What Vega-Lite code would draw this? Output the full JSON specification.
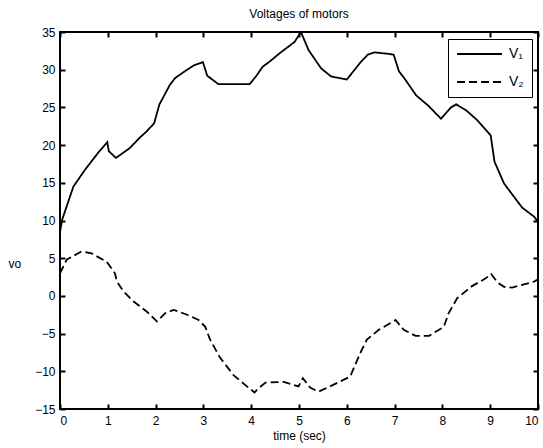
{
  "$schema": "https://vega.github.io/schema/vega-lite/v6.json",
  "width": 478,
  "height": 377,
  "autosize": "none",
  "padding": {"left": 60, "top": 32, "right": 5, "bottom": 39},
  "background": "white",
  "title": {"text": "Voltages of motors", "fontSize": 12, "font": "Liberation Sans", "fontWeight": "normal", "color": "black", "offset": 5, "anchor": "middle"},
  "data": {"values": [
    {"t": 0, "v": 8.5, "s": "V₁"},
    {"t": 0.05, "v": 10.2, "s": "V₁"},
    {"t": 0.28, "v": 14.5, "s": "V₁"},
    {"t": 0.52, "v": 16.7, "s": "V₁"},
    {"t": 0.8, "v": 19.0, "s": "V₁"},
    {"t": 0.99, "v": 20.4, "s": "V₁"},
    {"t": 1.02, "v": 19.2, "s": "V₁"},
    {"t": 1.17, "v": 18.3, "s": "V₁"},
    {"t": 1.46, "v": 19.6, "s": "V₁"},
    {"t": 1.67, "v": 21.0, "s": "V₁"},
    {"t": 1.81, "v": 21.8, "s": "V₁"},
    {"t": 1.97, "v": 22.9, "s": "V₁"},
    {"t": 2.08, "v": 25.4, "s": "V₁"},
    {"t": 2.3, "v": 28.0, "s": "V₁"},
    {"t": 2.41, "v": 28.9, "s": "V₁"},
    {"t": 2.66, "v": 30.0, "s": "V₁"},
    {"t": 2.81, "v": 30.6, "s": "V₁"},
    {"t": 2.99, "v": 31.0, "s": "V₁"},
    {"t": 3.08, "v": 29.2, "s": "V₁"},
    {"t": 3.31, "v": 28.1, "s": "V₁"},
    {"t": 3.97, "v": 28.1, "s": "V₁"},
    {"t": 4.11, "v": 29.2, "s": "V₁"},
    {"t": 4.24, "v": 30.4, "s": "V₁"},
    {"t": 4.37, "v": 31.0, "s": "V₁"},
    {"t": 4.62, "v": 32.3, "s": "V₁"},
    {"t": 4.91, "v": 33.7, "s": "V₁"},
    {"t": 5.04, "v": 35.0, "s": "V₁"},
    {"t": 5.2, "v": 32.6, "s": "V₁"},
    {"t": 5.46, "v": 30.2, "s": "V₁"},
    {"t": 5.67, "v": 29.1, "s": "V₁"},
    {"t": 6.0, "v": 28.7, "s": "V₁"},
    {"t": 6.29, "v": 31.0, "s": "V₁"},
    {"t": 6.44, "v": 32.0, "s": "V₁"},
    {"t": 6.58, "v": 32.3, "s": "V₁"},
    {"t": 6.87, "v": 32.1, "s": "V₁"},
    {"t": 6.98, "v": 32.0, "s": "V₁"},
    {"t": 7.09, "v": 29.8, "s": "V₁"},
    {"t": 7.2, "v": 28.9, "s": "V₁"},
    {"t": 7.45, "v": 26.6, "s": "V₁"},
    {"t": 7.71, "v": 25.2, "s": "V₁"},
    {"t": 7.97, "v": 23.5, "s": "V₁"},
    {"t": 8.18, "v": 25.0, "s": "V₁"},
    {"t": 8.29, "v": 25.4, "s": "V₁"},
    {"t": 8.5, "v": 24.6, "s": "V₁"},
    {"t": 8.73, "v": 23.3, "s": "V₁"},
    {"t": 9.01, "v": 21.3, "s": "V₁"},
    {"t": 9.09, "v": 17.8, "s": "V₁"},
    {"t": 9.29, "v": 14.9, "s": "V₁"},
    {"t": 9.67, "v": 11.7, "s": "V₁"},
    {"t": 9.92, "v": 10.5, "s": "V₁"},
    {"t": 10, "v": 9.8, "s": "V₁"},
    {"t": 0, "v": 3.0, "s": "V₂"},
    {"t": 0.14, "v": 4.8, "s": "V₂"},
    {"t": 0.45, "v": 5.9, "s": "V₂"},
    {"t": 0.66, "v": 5.65, "s": "V₂"},
    {"t": 0.98, "v": 4.5, "s": "V₂"},
    {"t": 1.15, "v": 3.0, "s": "V₂"},
    {"t": 1.19, "v": 1.9, "s": "V₂"},
    {"t": 1.33, "v": 0.57, "s": "V₂"},
    {"t": 1.54, "v": -0.75, "s": "V₂"},
    {"t": 1.82, "v": -2.1, "s": "V₂"},
    {"t": 2.03, "v": -3.4, "s": "V₂"},
    {"t": 2.2, "v": -2.3, "s": "V₂"},
    {"t": 2.38, "v": -1.85, "s": "V₂"},
    {"t": 2.66, "v": -2.5, "s": "V₂"},
    {"t": 2.9, "v": -3.2, "s": "V₂"},
    {"t": 3.04, "v": -4.1, "s": "V₂"},
    {"t": 3.14, "v": -5.8, "s": "V₂"},
    {"t": 3.35, "v": -8.2, "s": "V₂"},
    {"t": 3.63, "v": -10.5, "s": "V₂"},
    {"t": 3.91, "v": -12.0, "s": "V₂"},
    {"t": 4.07, "v": -12.8, "s": "V₂"},
    {"t": 4.16, "v": -12.2, "s": "V₂"},
    {"t": 4.3, "v": -11.5, "s": "V₂"},
    {"t": 4.68, "v": -11.4, "s": "V₂"},
    {"t": 4.99, "v": -12.0, "s": "V₂"},
    {"t": 5.08, "v": -10.9, "s": "V₂"},
    {"t": 5.24, "v": -12.2, "s": "V₂"},
    {"t": 5.41, "v": -12.7, "s": "V₂"},
    {"t": 5.65, "v": -12.0, "s": "V₂"},
    {"t": 6.07, "v": -10.7, "s": "V₂"},
    {"t": 6.28, "v": -7.6, "s": "V₂"},
    {"t": 6.42, "v": -5.8, "s": "V₂"},
    {"t": 6.67, "v": -4.5, "s": "V₂"},
    {"t": 7.02, "v": -3.2, "s": "V₂"},
    {"t": 7.19, "v": -4.5, "s": "V₂"},
    {"t": 7.44, "v": -5.3, "s": "V₂"},
    {"t": 7.72, "v": -5.3, "s": "V₂"},
    {"t": 8.03, "v": -4.1, "s": "V₂"},
    {"t": 8.13, "v": -2.3, "s": "V₂"},
    {"t": 8.31, "v": -0.3, "s": "V₂"},
    {"t": 8.62, "v": 1.3, "s": "V₂"},
    {"t": 8.9, "v": 2.3, "s": "V₂"},
    {"t": 9.02, "v": 2.9, "s": "V₂"},
    {"t": 9.15, "v": 1.8, "s": "V₂"},
    {"t": 9.29, "v": 1.2, "s": "V₂"},
    {"t": 9.46, "v": 1.1, "s": "V₂"},
    {"t": 9.92, "v": 1.9, "s": "V₂"},
    {"t": 10, "v": 2.2, "s": "V₂"}
  ]},
  "mark": {"type": "line", "color": "black", "strokeWidth": 1.8, "clip": true},
  "encoding": {
    "x": {"field": "t", "type": "quantitative", "scale": {"domain": [0, 10], "nice": false, "zero": false},
      "axis": {"orient": "bottom", "values": [0,1,2,3,4,5,6,7,8,9,10], "title": "time (sec)", "titlePadding": 4, "labelPadding": 6, "ticks": false, "domain": false, "grid": true, "gridColor": "black", "gridWidth": 2, "gridOpacity": 1, "gridDash": [5, 367, 5, 1000]}},
    "y": {"field": "v", "type": "quantitative", "scale": {"domain": [-15, 35], "nice": false, "zero": false},
      "axis": {"orient": "left", "values": [-15,-10,-5,0,5,10,15,20,25,30,35], "title": "vo", "titleAngle": 0, "titleAlign": "left", "titleBaseline": "middle", "titleX": -52, "titleY": 231, "labelPadding": 5, "ticks": false, "domain": false, "grid": true, "gridColor": "black", "gridWidth": 2, "gridOpacity": 1, "gridDash": [5, 468, 5, 1000]}},
    "strokeDash": {"field": "s", "type": "nominal", "scale": {"domain": ["V₁", "V₂"], "range": [[1, 0], [8, 4]]},
      "legend": {"title": null, "orient": "none", "legendX": 388, "legendY": 7, "strokeColor": "black", "fillColor": "white", "padding": 8, "symbolType": "stroke", "symbolSize": 2025, "clipHeight": 14, "symbolStrokeWidth": 1.8, "symbolStrokeColor": "black", "labelFontSize": 14, "labelFont": "Liberation Sans", "labelColor": "black", "labelOffset": 6, "rowPadding": 14}},
    "detail": {"field": "s"}
  },
  "config": {
    "view": {"stroke": "black", "strokeWidth": 2},
    "axis": {"labelFont": "Liberation Sans", "labelFontSize": 12, "labelColor": "black", "titleFont": "Liberation Sans", "titleFontSize": 12, "titleFontWeight": "normal", "titleColor": "black"}
  }
}
